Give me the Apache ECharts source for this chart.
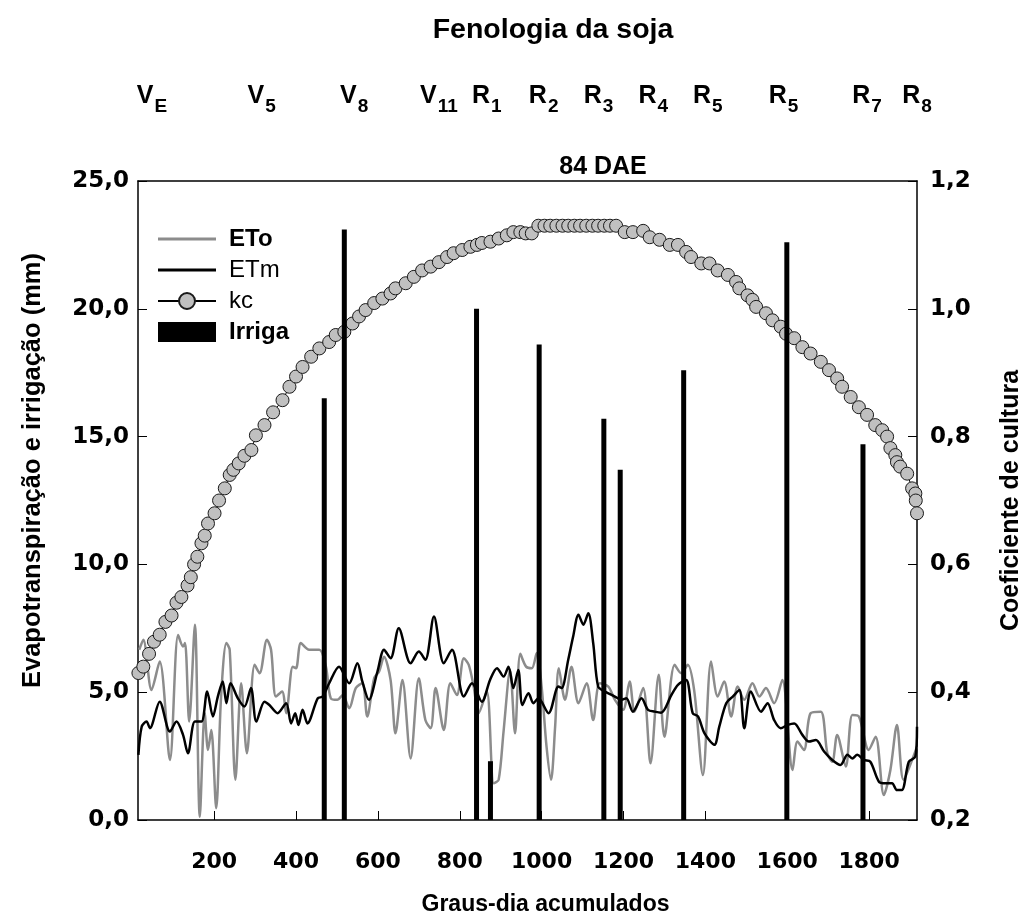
<!DOCTYPE html>
<html><head><meta charset="utf-8">
<script src="https://cdn.jsdelivr.net/npm/echarts@6/dist/echarts.min.js"></script>
<style>html,body{margin:0;padding:0;background:#fff}#c{width:1032px;height:922px}</style>
</head><body><div id="c"></div><script>
// ---- data ----
const xTicks = [200,400,600,800,1000,1200,1400,1600,1800];
const irrigaX = [469,518,841,875,994,1152,1192,1347,1599,1785];
const irrigaY = [16.5,23.1,20.0,2.3,18.6,15.7,13.7,17.6,22.6,14.7];

const etoX = [17,27,47,67,92,112,124,129,139,153,165,177,185,193,205,217,230,238,252,266,280,299,311,329,339,351,366,376,392,400,412,432,457,473,485,501,514,530,546,562,574,591,603,615,631,643,660,680,700,716,729,741,761,777,793,810,822,834,846,866,883,895,907,923,935,948,962,976,988,1000,1012,1023,1033,1042,1057,1073,1090,1110,1126,1142,1163,1179,1199,1215,1227,1248,1266,1286,1300,1325,1341,1357,1373,1394,1414,1430,1446,1463,1479,1495,1515,1532,1548,1568,1588,1613,1625,1641,1657,1682,1698,1710,1722,1743,1759,1775,1799,1816,1836,1852,1868,1884,1905,1917];
const etoY = [6.66,7.05,5.09,6.20,2.35,7.24,6.79,6.92,3.85,7.64,0.13,4.18,2.74,3.52,0.46,4.83,6.92,6.66,1.57,5.35,2.61,6.07,5.74,7.05,6.66,4.83,5.03,4.18,6.00,5.94,6.92,6.66,6.66,6.00,4.76,4.70,4.89,4.37,5.16,5.35,4.05,5.55,5.81,6.39,5.48,3.39,5.48,2.41,5.55,3.91,3.59,5.16,3.52,5.35,4.89,6.33,6.07,5.22,4.18,5.03,1.44,1.57,3.46,5.87,3.39,6.50,6.00,5.94,6.53,5.22,2.87,1.57,3.65,5.94,4.70,6.00,4.57,5.35,3.91,5.35,5.22,4.70,4.31,5.42,4.24,5.16,2.22,5.68,3.26,6.07,5.74,6.07,5.03,1.76,6.20,4.83,5.42,4.05,5.22,4.70,5.35,4.83,5.16,4.57,5.48,1.96,3.07,2.74,4.18,4.24,2.61,2.28,3.33,2.09,4.11,4.05,2.74,3.26,0.98,1.96,3.72,1.57,2.35,2.87];

const etmX = [15,23,35,43,67,92,108,124,136,153,169,183,197,209,221,230,240,258,274,290,303,323,335,355,376,388,398,406,416,428,453,465,481,505,530,550,562,578,599,615,631,651,680,700,716,737,761,781,810,830,854,874,891,907,919,931,943,953,968,980,992,1017,1041,1049,1065,1077,1090,1102,1114,1126,1138,1154,1179,1195,1207,1223,1244,1260,1276,1292,1317,1333,1353,1369,1382,1398,1422,1434,1451,1467,1483,1495,1511,1536,1552,1568,1584,1601,1617,1637,1653,1670,1690,1710,1730,1747,1759,1771,1787,1803,1824,1840,1856,1868,1880,1897,1913,1917];
const etmY = [2.55,3.65,3.85,3.59,4.63,3.46,3.85,3.33,2.61,3.85,3.85,5.03,4.05,4.83,5.42,4.57,5.35,4.76,4.44,5.16,3.85,4.63,4.50,4.18,4.57,3.78,4.18,3.72,4.31,3.78,4.76,4.83,5.35,6.00,5.35,6.13,5.42,4.70,5.81,6.66,6.33,7.50,6.13,6.59,6.27,7.96,6.13,6.66,4.83,5.35,4.63,5.48,5.94,5.61,6.00,5.16,5.87,4.50,4.96,4.57,4.76,4.18,5.22,5.16,6.27,7.18,8.03,7.64,8.09,6.92,5.22,5.03,4.83,4.70,4.76,4.24,4.76,4.31,4.24,4.20,4.89,5.29,5.48,4.18,4.05,3.39,2.94,3.65,4.57,4.83,5.09,3.59,5.03,4.24,4.57,3.91,3.59,3.72,3.78,3.33,3.07,3.13,2.68,2.35,2.15,2.55,2.41,2.55,2.35,2.28,1.50,1.44,1.44,1.17,1.17,2.28,2.48,3.65];

const kcX = [15,27,41,53,67,81,96,108,120,135,143,151,159,169,177,185,201,212,226,238,247,260,274,291,302,323,344,367,384,400,416,437,457,481,497,518,538,554,570,591,611,631,643,668,688,708,729,749,769,785,806,826,842,854,875,895,915,931,948,961,976,992,1007,1021,1036,1051,1065,1080,1094,1109,1124,1138,1153,1167,1182,1203,1223,1248,1264,1288,1313,1333,1353,1365,1390,1410,1430,1455,1475,1483,1503,1515,1524,1548,1564,1584,1597,1617,1637,1657,1682,1702,1722,1734,1755,1775,1795,1815,1832,1844,1852,1864,1868,1876,1893,1905,1913,1914,1917];
const kcY = [0.43,0.44,0.46,0.479,0.49,0.51,0.52,0.54,0.549,0.567,0.58,0.60,0.612,0.633,0.645,0.664,0.68,0.70,0.719,0.74,0.748,0.758,0.77,0.779,0.802,0.818,0.838,0.857,0.878,0.894,0.909,0.925,0.938,0.948,0.959,0.964,0.977,0.988,0.998,1.009,1.016,1.024,1.032,1.04,1.05,1.06,1.066,1.073,1.081,1.087,1.092,1.097,1.10,1.103,1.105,1.11,1.115,1.12,1.12,1.118,1.118,1.13,1.13,1.13,1.13,1.13,1.13,1.13,1.13,1.13,1.13,1.13,1.13,1.13,1.13,1.12,1.12,1.122,1.112,1.108,1.10,1.10,1.089,1.081,1.071,1.071,1.06,1.053,1.042,1.032,1.021,1.014,1.003,0.993,0.982,0.972,0.961,0.954,0.94,0.93,0.917,0.904,0.891,0.878,0.862,0.846,0.834,0.818,0.81,0.80,0.782,0.771,0.76,0.753,0.742,0.719,0.711,0.70,0.68];

const stageX = [48,316,542,749,866,1005,1139,1273,1406,1591,1795,1917];
const stageMain = ['V','V','V','V','R','R','R','R','R','R','R','R'];
const stageSub = ['E','5','8','11','1','2','3','4','5','5','7','8'];

// ---- chart ----
const F = "'Liberation Sans', Arial, sans-serif";
const FD = "'DejaVu Sans', sans-serif";
const pair = (xs, ys) => xs.map((x, i) => [x, ys[i]]);
const comma = v => v.toFixed(1).replace('.', ',');
const lineIcon = 'path://M0,0 M0,8.6 L58,8.6 L58,11.4 L0,11.4 Z M58,20';

const chart = echarts.init(document.getElementById('c'), null, {renderer: 'canvas'});
chart.setOption({
  animation: false,
  backgroundColor: '#fff',
  title: [
    {text: 'Fenologia da soja', left: 548, top: 11, textAlign: 'center',
     textStyle: {fontFamily: F, fontWeight: 'bold', fontSize: 28.5, color: '#000'}},
    {text: '84 DAE', left: 598, top: 150, textAlign: 'center',
     textStyle: {fontFamily: F, fontWeight: 'bold', fontSize: 25, color: '#000'}}
  ],
  grid: {left: 138, right: 112, top: 181, bottom: 102, containLabel: false},
  legend: {
    orient: 'vertical', left: 152, top: 222, itemWidth: 58, itemHeight: 20, itemGap: 7,
    textStyle: {fontFamily: F, fontSize: 24, color: '#000', padding: [0, 0, 0, 8]},
    data: [
      {name: 'ETo', icon: lineIcon, textStyle: {fontWeight: 'bold'}},
      {name: 'ETm', icon: lineIcon},
      {name: 'kc'},
      {name: 'Irriga', icon: 'rect', textStyle: {fontWeight: 'bold'}}
    ]
  },
  xAxis: [
    {type: 'value', min: 14, max: 1917, position: 'bottom',
     axisLine: {show: true, onZero: false, lineStyle: {color: '#000', width: 1.5}},
     axisTick: {show: true, inside: true, length: 9, customValues: xTicks, lineStyle: {color: '#000'}},
     axisLabel: {customValues: xTicks, formatter: v => String(v), margin: 31,
                 fontFamily: FD, fontWeight: 'bold', fontSize: 22, color: '#000'},
     splitLine: {show: false},
     name: 'Graus-dia acumulados', nameLocation: 'middle', nameGap: 73,
     nameTextStyle: {fontFamily: F, fontWeight: 'bold', fontSize: 23, color: '#000', padding: [0, 0, 0, 36]}},
    {type: 'value', min: 14, max: 1917, position: 'top',
     axisLine: {show: true, onZero: false, lineStyle: {color: '#000', width: 1.5}},
     axisTick: {show: false},
     axisLabel: {customValues: stageX, margin: 72, color: '#000', showMaxLabel: true, showMinLabel: true,
       formatter: v => { const i = stageX.indexOf(v); return '{m|' + stageMain[i] + '}{s|' + stageSub[i] + '}'; },
       rich: {
         m: {fontFamily: F, fontWeight: 'bold', fontSize: 25, lineHeight: 25, color: '#000'},
         s: {fontFamily: F, fontWeight: 'bold', fontSize: 19, lineHeight: 19, padding: [21, 0, 0, 1], color: '#000'}
       }},
     splitLine: {show: false}}
  ],
  yAxis: [
    {type: 'value', min: 0, max: 25, interval: 5, position: 'left',
     axisLine: {show: true, onZero: false, lineStyle: {color: '#000', width: 1.5}},
     axisTick: {show: true, inside: true, length: 9, lineStyle: {color: '#000'}},
     axisLabel: {formatter: comma, margin: 9, fontFamily: FD, fontWeight: 'bold', fontSize: 23, color: '#000'},
     splitLine: {show: false},
     name: 'Evapotranspiração e irrigação (mm)', nameLocation: 'middle', nameRotate: 90, nameGap: 92,
     nameTextStyle: {fontFamily: F, fontWeight: 'bold', fontSize: 25.5, color: '#000', padding: [0, 0, 0, 60]}},
    {type: 'value', min: 0.2, max: 1.2, interval: 0.2, position: 'right',
     axisLine: {show: true, onZero: false, lineStyle: {color: '#000', width: 1.5}},
     axisTick: {show: true, inside: true, length: 9, lineStyle: {color: '#000'}},
     axisLabel: {formatter: comma, margin: 13, fontFamily: FD, fontWeight: 'bold', fontSize: 23, color: '#000'},
     splitLine: {show: false},
     name: 'Coeficiente de cultura', nameLocation: 'middle', nameRotate: 90, nameGap: 82,
     nameTextStyle: {fontFamily: F, fontWeight: 'bold', fontSize: 25, color: '#000'}}
  ],
  series: [
    {name: 'ETo', type: 'line', xAxisIndex: 0, yAxisIndex: 0, data: pair(etoX, etoY),
     smooth: 0.3, showSymbol: false, symbol: 'none', z: 2,
     lineStyle: {color: '#8c8c8c', width: 2.5}, itemStyle: {color: '#8c8c8c'}},
    {name: 'ETm', type: 'line', xAxisIndex: 0, yAxisIndex: 0, data: pair(etmX, etmY),
     smooth: 0.3, showSymbol: false, symbol: 'none', z: 3,
     lineStyle: {color: '#000', width: 2.5}, itemStyle: {color: '#000'}},
    {name: 'kc', type: 'line', xAxisIndex: 0, yAxisIndex: 1, data: pair(kcX, kcY),
     symbol: 'circle', symbolSize: 13, z: 4,
     lineStyle: {color: '#000', width: 1}, itemStyle: {color: '#c0c0c0', borderColor: '#1a1a1a', borderWidth: 1}},
    {name: 'Irriga', type: 'bar', xAxisIndex: 0, yAxisIndex: 0, data: pair(irrigaX, irrigaY),
     barWidth: 5, z: 5, itemStyle: {color: '#000'}}
  ]
});
</script></body></html>
